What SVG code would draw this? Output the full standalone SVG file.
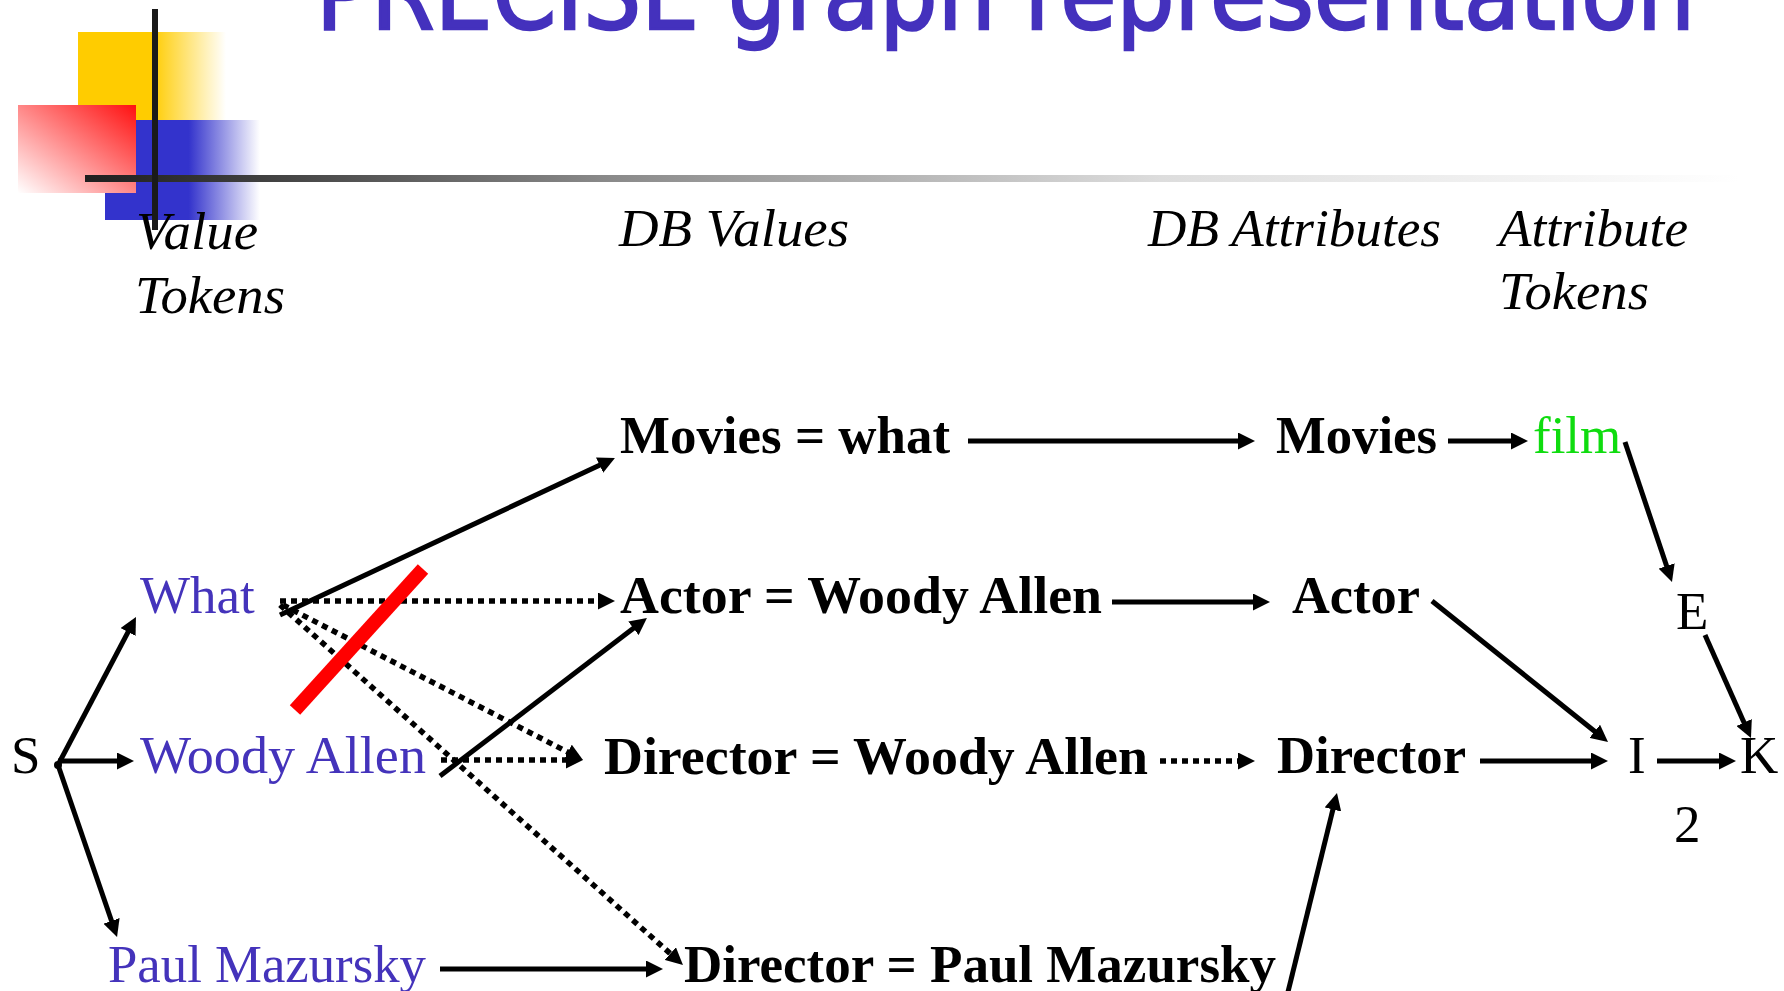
<svg xmlns="http://www.w3.org/2000/svg" width="1784" height="991" viewBox="0 0 1784 991">
<defs>
  <linearGradient id="gYellow" x1="0" y1="0" x2="1" y2="0">
    <stop offset="0" stop-color="#FFCC00"/>
    <stop offset="0.5" stop-color="#FFCC00"/>
    <stop offset="1" stop-color="#FFCC00" stop-opacity="0"/>
  </linearGradient>
  <linearGradient id="gBlue" x1="0" y1="0" x2="1" y2="0">
    <stop offset="0" stop-color="#3333CC"/>
    <stop offset="0.54" stop-color="#3333CC"/>
    <stop offset="1" stop-color="#3333CC" stop-opacity="0"/>
  </linearGradient>
  <linearGradient id="gRed" x1="1" y1="0" x2="0" y2="1">
    <stop offset="0" stop-color="#FF1010"/>
    <stop offset="1" stop-color="#FFFFFF"/>
  </linearGradient>
  <linearGradient id="gRule" gradientUnits="userSpaceOnUse" x1="85" y1="0" x2="1740" y2="0">
    <stop offset="0" stop-color="#1f1f1f"/>
    <stop offset="0.07" stop-color="#333333"/>
    <stop offset="0.31" stop-color="#888888"/>
    <stop offset="0.65" stop-color="#dddddd"/>
    <stop offset="1" stop-color="#ffffff"/>
  </linearGradient>
  <marker id="ah" viewBox="0 0 17 17" refX="7" refY="8.5" markerWidth="17" markerHeight="17" markerUnits="userSpaceOnUse" orient="auto">
    <path d="M0,0 L17,8.5 L0,17 z" fill="#000"/>
  </marker>
  <style>
    .t { font-family: "Liberation Serif", "Times New Roman", serif; font-size: 53px; }
    .hdr { font-family: "Liberation Serif", "Times New Roman", serif; font-size: 53px; font-style: italic; fill: #000; }
    .val { fill: #4433BB; }
    .b { font-weight: bold; fill: #000; }
    .k { fill: #000; }
    .green { fill: #0FDC0F; }
    .c { stroke: #000; stroke-width: 5; fill: none; marker-end: url(#ah); }
    .d { stroke: #000; stroke-width: 5.5; fill: none; stroke-dasharray: 6 5; marker-end: url(#ah); }
  </style>
</defs>
<rect width="1784" height="991" fill="#fff"/>

<g id="logo">
  <rect x="78" y="32" width="148" height="88" fill="url(#gYellow)"/>
  <rect x="105" y="120" width="155" height="100" fill="url(#gBlue)"/>
  <rect x="18" y="105" width="118" height="88" fill="url(#gRed)"/>
  <rect x="85" y="175" width="1699" height="7" fill="url(#gRule)"/>
  <rect x="152" y="9" width="6" height="221" fill="#1a1a1a"/>
</g>

<g id="title">
  <text x="316" y="29" font-family="DejaVu Sans, sans-serif" font-size="100" fill="#4431BD" stroke="#4431BD" stroke-width="2.5" textLength="1379" lengthAdjust="spacingAndGlyphs">PRECISE graph representation</text>
</g>

<g id="headers">
  <text class="hdr" x="136" y="249" textLength="122" lengthAdjust="spacingAndGlyphs">Value</text>
  <text class="hdr" x="135" y="313" textLength="150" lengthAdjust="spacingAndGlyphs">Tokens</text>
  <text class="hdr" x="619" y="246" textLength="230" lengthAdjust="spacingAndGlyphs">DB Values</text>
  <text class="hdr" x="1148" y="246" textLength="293" lengthAdjust="spacingAndGlyphs">DB Attributes</text>
  <text class="hdr" x="1499" y="246" textLength="189" lengthAdjust="spacingAndGlyphs">Attribute</text>
  <text class="hdr" x="1499" y="309" textLength="150" lengthAdjust="spacingAndGlyphs">Tokens</text>
</g>

<g id="connectors">
  <line class="c" x1="58" y1="765" x2="131.3" y2="625.8"/>
  <line class="c" x1="58" y1="761" x2="124" y2="761"/>
  <line class="c" x1="58" y1="765" x2="113.8" y2="927.5"/>
  <line class="c" x1="280" y1="615" x2="605.9" y2="462.2"/>
  <line class="c" x1="440" y1="776" x2="639" y2="624.1"/>
  <line class="c" x1="440" y1="969" x2="653" y2="969"/>
  <line class="c" x1="968" y1="441" x2="1245" y2="441"/>
  <line class="c" x1="1112" y1="602" x2="1260" y2="602"/>
  <line class="c" x1="1448" y1="441" x2="1518" y2="441"/>
  <line class="c" x1="1625" y1="442" x2="1668.8" y2="572.5"/>
  <line class="c" x1="1432" y1="601" x2="1600.2" y2="735.7"/>
  <line class="c" x1="1480" y1="761" x2="1598" y2="761"/>
  <line class="c" x1="1657" y1="761" x2="1726" y2="761"/>
  <line class="c" x1="1705" y1="635" x2="1746.9" y2="728.9"/>
  <line class="c" x1="1286" y1="1000" x2="1334.6" y2="802.7"/>
  <line class="d" x1="280" y1="601" x2="605" y2="601"/>
  <line class="d" x1="283" y1="605" x2="574.1" y2="755.4"/>
  <line class="d" x1="280" y1="605" x2="675.5" y2="958.3"/>
  <line class="d" x1="441" y1="760" x2="573" y2="760"/>
  <line class="d" x1="1160" y1="761" x2="1245" y2="761"/>
  <circle cx="58" cy="765" r="4" fill="#000"/>
</g>

<g id="strike">
  <line x1="295" y1="710" x2="423" y2="569" stroke="#FF0000" stroke-width="14"/>
</g>

<g id="node-S"><text class="t k" x="11" y="773">S</text></g>
<g id="node-what"><text class="t val" x="140" y="613">What</text></g>
<g id="node-woody"><text class="t val" x="140" y="773" textLength="286" lengthAdjust="spacingAndGlyphs">Woody Allen</text></g>
<g id="node-paul"><text class="t val" x="108" y="982" textLength="318" lengthAdjust="spacingAndGlyphs">Paul Mazursky</text></g>
<g id="node-movies-what"><text class="t b" x="620" y="453" textLength="330" lengthAdjust="spacingAndGlyphs">Movies = what</text></g>
<g id="node-actor-wa"><text class="t b" x="620" y="613" textLength="482" lengthAdjust="spacingAndGlyphs">Actor = Woody Allen</text></g>
<g id="node-director-wa"><text class="t b" x="604" y="774" textLength="544" lengthAdjust="spacingAndGlyphs">Director = Woody Allen</text></g>
<g id="node-director-pm"><text class="t b" x="684" y="982" textLength="592" lengthAdjust="spacingAndGlyphs">Director = Paul Mazursky</text></g>
<g id="node-movies"><text class="t b" x="1276" y="453" textLength="161" lengthAdjust="spacingAndGlyphs">Movies</text></g>
<g id="node-actor"><text class="t b" x="1292" y="613" textLength="128" lengthAdjust="spacingAndGlyphs">Actor</text></g>
<g id="node-director"><text class="t b" x="1277" y="773" textLength="189" lengthAdjust="spacingAndGlyphs">Director</text></g>
<g id="node-film"><text class="t green" x="1533" y="453">film</text></g>
<g id="node-E"><text class="t k" x="1676" y="629">E</text></g>
<g id="node-I"><text class="t k" x="1628" y="773">I</text></g>
<g id="node-K"><text class="t k" x="1740" y="773">K</text></g>
<g id="node-2"><text class="t k" x="1674" y="842">2</text></g>
</svg>
